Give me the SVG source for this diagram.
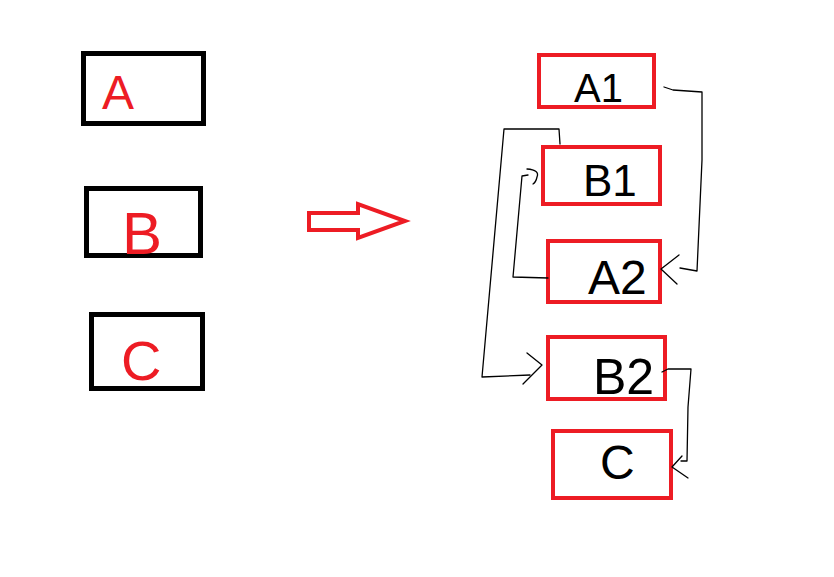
<svg xmlns="http://www.w3.org/2000/svg" width="834" height="577" viewBox="0 0 834 577">
<style>
.bk{fill:none;stroke:#000;stroke-width:5}
.rd{fill:none;stroke:#ed1c24;stroke-width:4}
.lr{font-family:"Liberation Sans",Arial,sans-serif;fill:#ed1c24;font-weight:normal}
.lb{font-family:"Liberation Sans",Arial,sans-serif;fill:#000}
.cn{fill:none;stroke:#000;stroke-width:1.3;stroke-linejoin:round;stroke-linecap:round}
</style>
<rect width="834" height="577" fill="#fff"/>
<g id="left-A"><rect class="bk" x="83.5" y="53.5" width="120" height="70"/><text class="lr" x="102" y="109" font-size="48">A</text></g>
<g id="left-B"><rect class="bk" x="86.5" y="188.5" width="114" height="67"/><text class="lr" x="122" y="254" font-size="60">B</text></g>
<g id="left-C"><rect class="bk" x="91.5" y="314.5" width="111" height="74"/><text class="lr" x="121" y="380" font-size="56">C</text></g>
<g id="big-arrow"><polygon class="rd" points="309,213 358,213 358,204 405,221 358,238 358,230 309,230" stroke-width="4"/></g>
<g id="A1"><rect class="rd" x="539" y="55" width="115" height="52"/><text class="lb" x="574" y="102" font-size="40">A1</text></g>
<g id="B1"><rect class="rd" x="543" y="147" width="117" height="57"/><text class="lb" x="583" y="196" font-size="44">B1</text></g>
<g id="A2"><rect class="rd" x="548" y="241" width="112" height="61"/><text class="lb" x="588" y="294" font-size="48">A2</text></g>
<g id="B2"><rect class="rd" x="548" y="337" width="117" height="62"/><text class="lb" x="593" y="394" font-size="50">B2</text></g>
<g id="C"><rect class="rd" x="553" y="431" width="118" height="67"/><text class="lb" x="600" y="479" font-size="48">C</text></g>
<g id="connectors">
<polyline class="cn" points="664,87 673,90 702,92 702,160 697,271 680,268"/>
<polyline class="cn" points="679,255 661,269 677,284"/>
<polyline class="cn" points="548,278 513,277 522,176 528,175"/>
<path class="cn" d="M527,169 Q540,170 537,177 Q536,182 533,184"/>
<polyline class="cn" points="560,144 559,129 504,129 482,377 530,375"/>
<polyline class="cn" points="527,353 542,365 523,384"/>
<polyline class="cn" points="662,372 668,369 691,369 688,407 687,461 681,461"/>
<polyline class="cn" points="682,456 672,467 688,478"/>
</g>
</svg>
